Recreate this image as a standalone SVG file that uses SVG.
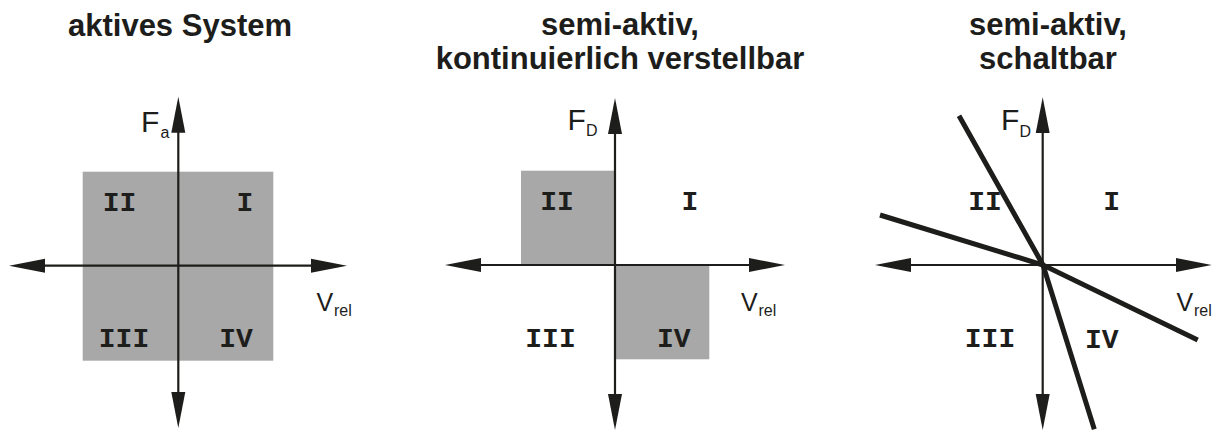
<svg xmlns="http://www.w3.org/2000/svg" width="1223" height="432" viewBox="0 0 1223 432">
<style>
.title{font-family:"Liberation Sans",Arial,sans-serif;font-weight:bold;font-size:31px;fill:#1d1d1b;text-anchor:middle}
.quad{font-family:"Liberation Mono","Courier New",monospace;font-weight:bold;font-size:28px;fill:#1d1d1b;text-anchor:middle}
.lbl{font-family:"Liberation Sans",Arial,sans-serif;fill:#1d1d1b}
.big{font-size:30px}
.v{font-size:25px}
.sub{font-size:16px}
.shade{fill:#a8a8a8}
.axis{stroke:#1d1d1b;stroke-width:2.2;fill:none;marker-start:url(#ah);marker-end:url(#ah)}
.curve{stroke:#1d1d1b;stroke-width:5;fill:none}
</style>
<defs>
<marker id="ah" markerUnits="userSpaceOnUse" markerWidth="40" markerHeight="16" viewBox="0 -8 40 16" refX="6" refY="0" orient="auto-start-reverse">
<path d="M0,-7 L36,0 L0,7 Z" fill="#1d1d1b"/>
</marker>
</defs>
<rect width="1223" height="432" fill="#ffffff"/>

<g id="title-1"><text class="title" x="180" y="36">aktives System</text></g>
<g id="title-2"><text class="title" x="620" y="35">semi-aktiv,</text><text class="title" x="620" y="69">kontinuierlich verstellbar</text></g>
<g id="title-3"><text class="title" x="1048" y="35">semi-aktiv,</text><text class="title" x="1048" y="69">schaltbar</text></g>

<g id="panel-1-area"><rect class="shade" x="82.7" y="171.7" width="190.6" height="189"/></g>
<g id="panel-2-area-II"><rect class="shade" x="521" y="170.7" width="94" height="94.3"/></g>
<g id="panel-2-area-IV"><rect class="shade" x="615" y="265" width="94.3" height="94.3"/></g>

<g id="connectors">
<path class="axis" d="M39,265.7 H317"/>
<path class="axis" d="M178.3,126.7 V398"/>
<path class="axis" d="M475,265 H755"/>
<path class="axis" d="M615,128 V400"/>
<path class="axis" d="M905,265 H1181.7"/>
<path class="axis" d="M1042.7,127.3 V400"/>
</g>

<g id="panel-3-lines">
<path class="curve" d="M959,115.7 L1043,265 L1094.3,429.3"/>
<path class="curve" d="M880,215 L1043,265 L1197.7,340"/>
</g>

<g id="panel-1-labels">
<text class="lbl big" x="141" y="131.7">F</text><text class="lbl sub" x="160.5" y="137.5">a</text>
<text class="lbl v" x="316.5" y="311">V</text><text class="lbl sub" x="334" y="315.5">rel</text>
<text class="quad" x="119.5" y="210.7">II</text>
<text class="quad" x="245" y="210.7">I</text>
<text class="quad" x="124" y="346.7">III</text>
<text class="quad" x="236" y="346.7">IV</text>
</g>
<g id="panel-2-labels">
<text class="lbl big" x="567.5" y="130">F</text><text class="lbl sub" x="586" y="135.5">D</text>
<text class="lbl v" x="741" y="311">V</text><text class="lbl sub" x="758.5" y="315.5">rel</text>
<text class="quad" x="557" y="210">II</text>
<text class="quad" x="690" y="210">I</text>
<text class="quad" x="550.5" y="346.7">III</text>
<text class="quad" x="673.7" y="346.7">IV</text>
</g>
<g id="panel-3-labels">
<text class="lbl big" x="1001" y="130">F</text><text class="lbl sub" x="1019.5" y="136.5">D</text>
<text class="lbl v" x="1176.5" y="311">V</text><text class="lbl sub" x="1194" y="315.5">rel</text>
<text class="quad" x="985" y="210">II</text>
<text class="quad" x="1111.7" y="210">I</text>
<text class="quad" x="990" y="346.7">III</text>
<text class="quad" x="1101.7" y="348">IV</text>
</g>
</svg>
